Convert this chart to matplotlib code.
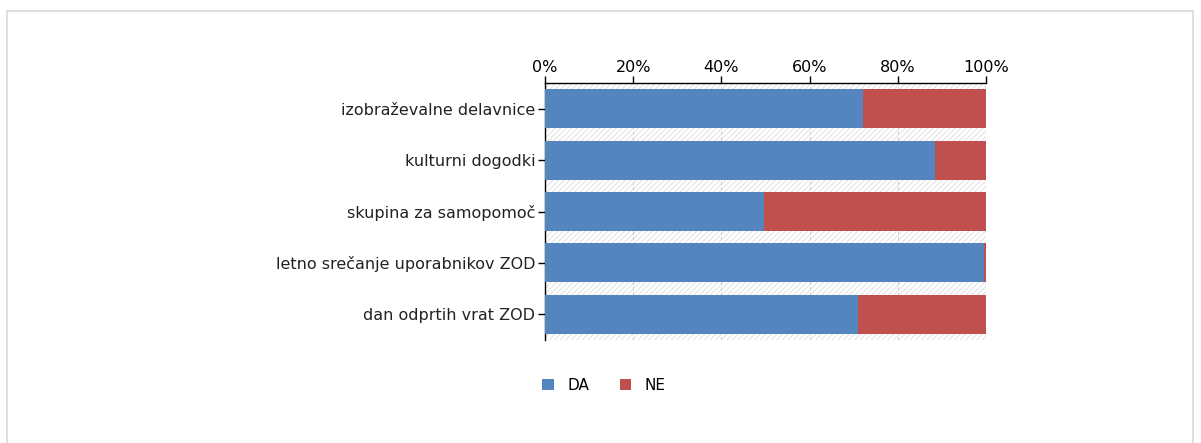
import matplotlib
matplotlib.use("Agg")
import matplotlib.pyplot as plt
from matplotlib.patches import Rectangle
from matplotlib.ticker import PercentFormatter
import numpy as np

# ---------------------------------------------------------------------------
# Data
# ---------------------------------------------------------------------------
categories = [
    "izobraževalne delavnice",
    "kulturni dogodki",
    "skupina za samopomoč",
    "letno srečanje uporabnikov ZOD",
    "dan odprtih vrat ZOD",
]
da_values = [72.1, 88.4, 49.7, 99.5, 71.0]
ne_values = [100 - v for v in da_values]

DA_COLOR = "#5585BF"
NE_COLOR = "#C0504D"

plt.rcParams.update({
    "font.family": "DejaVu Sans",
    "hatch.linewidth": 0.6,
})

W, H = 1201, 443
fig = plt.figure(figsize=(W / 100, H / 100), dpi=100)
fig.patch.set_facecolor("white")

# outer frame
fig.patches.append(Rectangle((7 / W, -0.1), (1193 - 7) / W, 1.1 - 11 / H,
                             transform=fig.transFigure, fill=False,
                             edgecolor="#d9d9d9", linewidth=1.2))

ax = fig.add_axes([545 / W, 1 - 340 / H, (986 - 545) / W, (340 - 83) / H])

# hatched background
ax.add_patch(Rectangle((0, 0), 1, 1, transform=ax.transAxes, facecolor="white",
                       edgecolor="#dcdcdc", hatch="//////", linewidth=0, zorder=0))

y = np.arange(len(categories))
ax.barh(y, da_values, height=0.76, color=DA_COLOR, label="DA", zorder=3)
ax.barh(y, ne_values, left=da_values, height=0.76, color=NE_COLOR, label="NE", zorder=3)

ax.set_xlim(0, 100)
ax.set_ylim(len(categories) - 0.5, -0.5)
ax.set_yticks(y)
ax.set_yticklabels(categories, fontsize=11.5, color="#222222")

ax.xaxis.tick_top()
ax.set_xticks([0, 20, 40, 60, 80, 100])
ax.xaxis.set_major_formatter(PercentFormatter(decimals=0))
ax.tick_params(axis="x", direction="out", length=5, width=1, labelsize=11.5,
               pad=1, colors="black")
ax.tick_params(axis="y", direction="out", length=5, width=1, pad=2)

ax.grid(axis="x", color="#d0d0d0", linestyle=(0, (3, 2)), linewidth=0.8, zorder=1)
ax.set_axisbelow(True)

for side in ("right", "bottom"):
    ax.spines[side].set_visible(False)
ax.spines["top"].set_linewidth(1)
ax.spines["left"].set_linewidth(1)

fig.legend(loc="center", bbox_to_anchor=(604 / W, 1 - 385 / H), ncol=2,
           frameon=False, fontsize=11, handlelength=0.75, handleheight=0.75,
           columnspacing=2.0, handletextpad=0.9)

fig.savefig("out.png", dpi=100)
